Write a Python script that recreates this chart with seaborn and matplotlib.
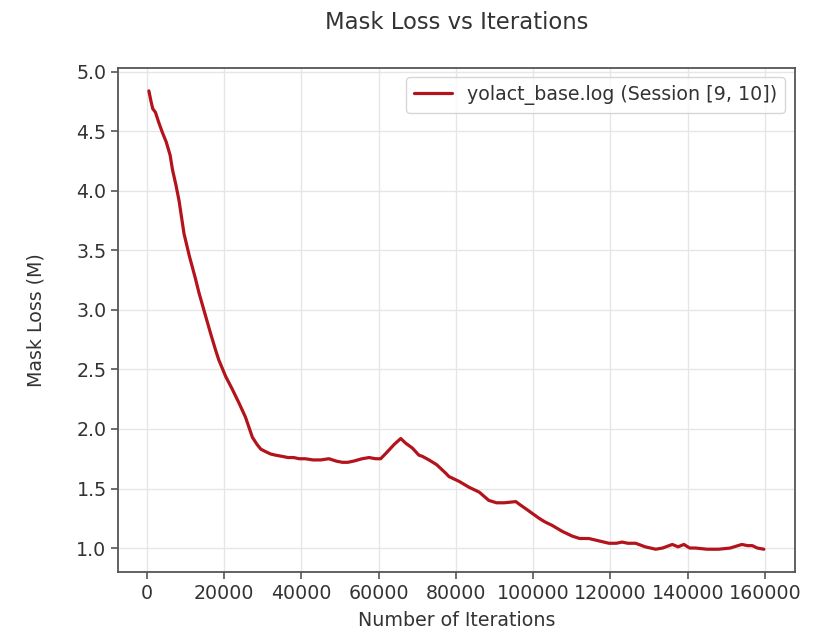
import matplotlib
matplotlib.use("Agg")
import matplotlib.pyplot as plt
import seaborn as sns
import pandas as pd

iterations = [500, 1000, 1500, 2200, 3000, 4000, 5000, 6000, 6600, 7500, 8300, 9600,
              11000, 12500, 13500, 15000, 16500, 17800, 18600, 19500, 20400, 22000,
              23800, 25500, 27300, 28500, 29500, 30700, 32000, 33300, 35000, 36500,
              38000, 39400, 41000, 43000, 45000, 47100, 49000, 50600, 52000, 53500,
              55700, 57500, 59200, 60500, 62000, 64000, 65700, 67000, 68700, 70400,
              71300, 73000, 75000, 77300, 78200, 80800, 83400, 86000, 88500, 90500,
              92500, 95500, 96300, 98500, 101500, 103000, 104900, 107500, 110100,
              112000, 114400, 117000, 119600, 121500, 123000, 124500, 126500, 129000,
              131700, 133500, 136000, 137500, 139000, 140500, 142000, 145000, 148000,
              151000, 154000, 155500, 156700, 158000, 159700]
mask_loss = [4.84, 4.76, 4.69, 4.66, 4.58, 4.49, 4.41, 4.30, 4.18, 4.05, 3.92, 3.64,
             3.45, 3.27, 3.14, 2.97, 2.80, 2.66, 2.58, 2.51, 2.44, 2.34,
             2.22, 2.10, 1.93, 1.87, 1.83, 1.81, 1.79, 1.78, 1.77, 1.76,
             1.76, 1.75, 1.75, 1.74, 1.74, 1.75, 1.73, 1.72, 1.72, 1.73,
             1.75, 1.76, 1.75, 1.75, 1.80, 1.87, 1.92, 1.88, 1.84, 1.78,
             1.77, 1.74, 1.70, 1.63, 1.60, 1.56, 1.51, 1.47, 1.40, 1.38,
             1.38, 1.39, 1.37, 1.32, 1.25, 1.22, 1.19, 1.14, 1.10,
             1.08, 1.08, 1.06, 1.04, 1.04, 1.05, 1.04, 1.04, 1.01,
             0.99, 1.00, 1.03, 1.01, 1.03, 1.00, 1.00, 0.99, 0.99,
             1.00, 1.03, 1.02, 1.02, 1.00, 0.99]
series_label = "yolact_base.log (Session [9, 10])"
x_ticks = [0, 20000, 40000, 60000, 80000, 100000, 120000, 140000, 160000]
y_ticks = [1.0, 1.5, 2.0, 2.5, 3.0, 3.5, 4.0, 4.5, 5.0]

df = pd.DataFrame({"Number of Iterations": iterations, "Mask Loss (M)": mask_loss,
                   "series": [series_label] * len(iterations)})

sns.set_style("ticks")
plt.rcParams["font.family"] = ["DejaVu Sans"]

text_col = "#333333"
fig = plt.figure(figsize=(8.26, 6.35), dpi=100)
ax = fig.add_axes([0.143, 0.099, 0.819, 0.794])
sns.lineplot(data=df, x="Number of Iterations", y="Mask Loss (M)", hue="series",
             palette=["#b3141c"], linewidth=2.3, ax=ax)

ax.set_xticks(x_ticks)
ax.set_yticks(y_ticks)
ax.tick_params(labelsize=13.7, colors="#555555", labelcolor=text_col,
               length=4.8, width=1.2)
ax.grid(True, color="#e6e6e6", linewidth=1.0)
ax.set_axisbelow(True)
for s in ax.spines.values():
    s.set_color("#555555")
    s.set_linewidth(1.3)
ax.set_xlabel("Number of Iterations", fontsize=13.7, color=text_col, labelpad=6)
ax.set_ylabel("Mask Loss (M)", fontsize=13.7, color=text_col, labelpad=22)
ax.set_title("Mask Loss vs Iterations", fontsize=16.4, color=text_col, pad=28)
leg = ax.legend(loc="upper right", fontsize=13.7, frameon=True,
                borderaxespad=0.5, handlelength=2.0)
leg.get_frame().set_edgecolor("#cccccc")
for t in leg.get_texts():
    t.set_color(text_col)

fig.savefig("out.png", dpi=100)
